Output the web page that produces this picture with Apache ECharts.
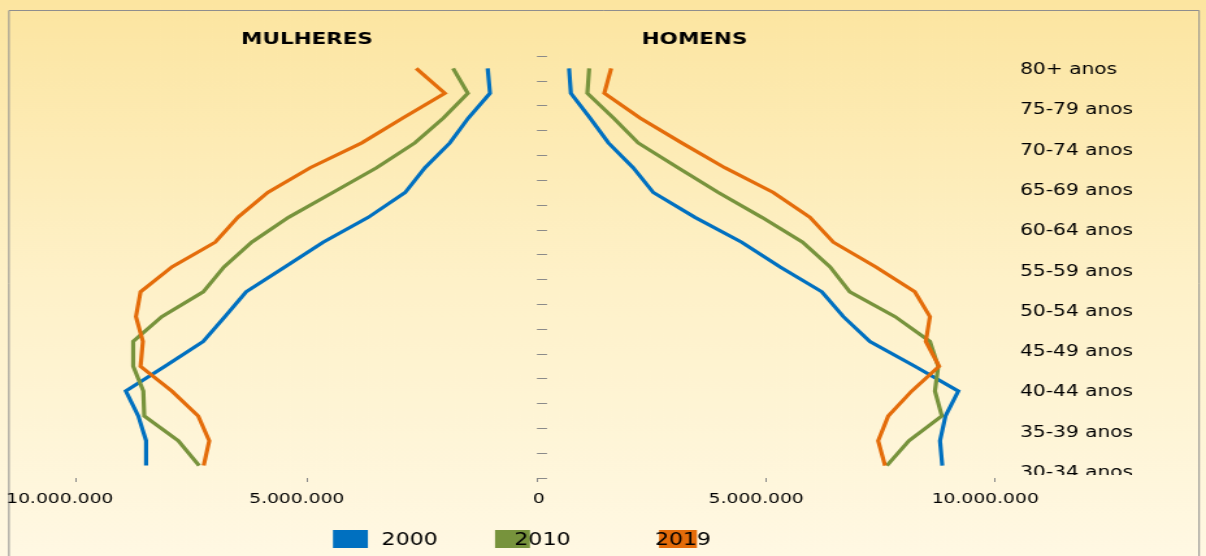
<!DOCTYPE html>
<html>
<head>
<meta charset="utf-8">
<script src="https://cdn.jsdelivr.net/npm/echarts@6.0.0/dist/echarts.min.js"></script>
<style>
  html, body { margin: 0; padding: 0; overflow: hidden; background: #FFF8E2; }
  #wrap { width: 1206px; height: 556px; overflow: hidden; position: relative; }
  /* chart is laid out on a narrower canvas and widened horizontally */
  #chart { width: 928px; height: 556px; transform: scaleX(1.29957); transform-origin: 0 0; }
</style>
</head>
<body>
<div id="wrap"><div id="chart"></div></div>
<script>
// Faixas etárias (de cima para baixo)
const ageGroups = ['80+ anos', '75-79 anos', '70-74 anos', '65-69 anos', '60-64 anos',
  '55-59 anos', '50-54 anos', '45-49 anos', '40-44 anos', '35-39 anos', '30-34 anos',
  '25-29 anos', '20-24 anos', '15-19 anos', '10-14 anos', '5-9 anos', '0-4 anos'];

// Rótulos exibidos à direita
const sideLabels = ageGroups.slice(0, 11);

const years = ['2000', '2010', '2019'];

// População feminina por faixa etária
const women2000 = [1070000, 1020000, 1490000, 1890000, 2430000, 2860000, 3660000, 4640000, 5470000,
  6310000, 6770000, 7240000, 8070000, 8920000, 8650000, 8480000, 8480000];
const women2010 = [1820000, 1500000, 2030000, 2650000, 3480000, 4430000, 5390000, 6190000, 6790000,
  7240000, 8140000, 8760000, 8760000, 8540000, 8520000, 7780000, 7330000];
const women2019 = [2620000, 2000000, 2910000, 3800000, 4920000, 5840000, 6490000, 6980000, 7920000,
  8600000, 8700000, 8550000, 8600000, 7920000, 7350000, 7110000, 7230000];

// População masculina por faixa etária
const men2000 = [700000, 740000, 1160000, 1560000, 2100000, 2540000, 3450000, 4470000, 5310000,
  6220000, 6690000, 7270000, 8250000, 9200000, 8920000, 8800000, 8850000];
const men2010 = [1140000, 1100000, 1670000, 2210000, 3080000, 3960000, 4910000, 5800000, 6400000,
  6830000, 7820000, 8580000, 8760000, 8690000, 8840000, 8120000, 7640000];
const men2019 = [1620000, 1470000, 2250000, 3160000, 4100000, 5160000, 5960000, 6470000, 7400000,
  8250000, 8580000, 8490000, 8780000, 8180000, 7670000, 7450000, 7600000];

// Ticks do eixo de população
const axisMax = 10000000;
const axisStep = 5000000;

const colors = { '2000': '#0070C0', '2010': '#77933C', '2019': '#E46C0A' };
const FONT = 'DejaVu Sans';

function brNumber(v) {
  return String(v).replace(/\B(?=(\d{3})+(?!\d))/g, '.');
}

const bgGradient = () => new echarts.graphic.LinearGradient(0, 0, 0, 556, [
  { offset: 0, color: '#FCE5A0' },
  { offset: 0.5, color: '#FEF1C8' },
  { offset: 1, color: '#FFF8E3' }
], true);

const chart = echarts.init(document.getElementById('chart'), null, { renderer: 'canvas', width: 928, height: 556 });

const W = 928;
const leftGrid = { left: 58.5, width: 354.7, top: 56, height: 422 };
const rightGrid = { left: 413.2, width: 352.4, top: 56, height: 422 };

const labelStyle = { fontFamily: FONT, fontSize: 14.4, color: '#000' };

function lineSeries(name, data, axisIdx) {
  return {
    name: name,
    type: 'line',
    xAxisIndex: axisIdx,
    yAxisIndex: axisIdx,
    data: data,
    symbol: 'none',
    smooth: false,
    silent: true,
    lineStyle: { width: 3.2, color: colors[name], join: 'miter' },
    itemStyle: { color: colors[name] },
    z: 3
  };
}

// Legend swatch (icon only)
function legendIcon(name, left, width) {
  return {
    data: [name],
    left: left,
    top: 530,
    padding: 0,
    itemWidth: width,
    itemHeight: 18,
    itemTextGap: 0,
    icon: 'rect',
    selectedMode: false,
    formatter: () => '',
    textStyle: { fontSize: 1 }
  };
}

// Legend caption (text only, drawn over the swatches)
function legendText(name, left) {
  return {
    data: [name],
    left: left,
    top: 532,
    z: 6,
    padding: 0,
    itemWidth: 0.1,
    itemHeight: 18,
    itemTextGap: 0,
    icon: 'rect',
    itemStyle: { color: 'rgba(0,0,0,0)' },
    selectedMode: false,
    textStyle: { fontFamily: FONT, fontSize: 17, color: '#000' }
  };
}

const option = {
  animation: false,
  textStyle: { fontFamily: FONT },
  title: [
    { text: 'MULHERES', left: 236.2, top: 31, padding: 0, textAlign: 'center',
      textStyle: { fontFamily: FONT, fontSize: 16.5, fontWeight: 'bold', color: '#000' } },
    { text: 'HOMENS', left: 534.4, top: 31, padding: 0, textAlign: 'center',
      textStyle: { fontFamily: FONT, fontSize: 16.5, fontWeight: 'bold', color: '#000' } }
  ],
  legend: [
    legendIcon('2000', 256.2, 26.9),
    legendIcon('2010', 380.9, 26.9),
    legendIcon('2019', 507.1, 29.2),
    legendText('2000', 288.5),
    legendText('2010', 390.7),
    legendText('2019', 498.8)
  ],
  grid: [
    Object.assign({ containLabel: false }, leftGrid),
    Object.assign({ containLabel: false }, rightGrid),
    { left: 775, width: 1, top: 49.85, height: 443.3, containLabel: false }
  ],
  xAxis: [
    {
      gridIndex: 0, type: 'value', inverse: true, min: 0, max: axisMax, interval: axisStep,
      axisLine: { show: false },
      axisTick: { show: true, length: 4, lineStyle: { color: '#8a8a8a' } },
      splitLine: { show: false },
      axisLabel: {
        margin: 14,
        formatter: v => v === 0 ? '{z|0}' : (v === axisMax ? '{a|' + brNumber(v) + '}' : '{b|' + brNumber(v) + '}'),
        rich: {
          a: Object.assign({ padding: [0, 25, 0, 0] }, labelStyle),
          b: Object.assign({ padding: [0, 15, 0, 0] }, labelStyle),
          z: Object.assign({ padding: [0, 0, 0, 3] }, labelStyle)
        }
      }
    },
    {
      gridIndex: 1, type: 'value', min: 0, max: axisMax, interval: axisStep,
      axisLine: { show: false },
      axisTick: { show: true, length: 4, lineStyle: { color: '#8a8a8a' } },
      splitLine: { show: false },
      axisLabel: {
        margin: 14,
        formatter: v => v === 0 ? '' : '{b|' + brNumber(v) + '}',
        rich: { b: Object.assign({ padding: [0, 15, 0, 0] }, labelStyle) }
      }
    },
    { gridIndex: 2, type: 'value', show: false }
  ],
  yAxis: [
    {
      gridIndex: 0, type: 'category', data: ageGroups, inverse: true, position: 'right',
      show: false
    },
    {
      gridIndex: 1, type: 'category', data: ageGroups, inverse: true, position: 'left',
      axisLine: { show: false },
      axisTick: { show: true, inside: true, length: 7.7, lineStyle: { color: '#8a8a8a', width: 1 } },
      axisLabel: { show: false },
      splitLine: { show: false }
    },
    {
      gridIndex: 2, type: 'category', data: sideLabels, inverse: true, position: 'right',
      axisLine: { show: false },
      axisTick: { show: false },
      splitLine: { show: false },
      axisLabel: { margin: 9, align: 'left', fontFamily: FONT, fontSize: 15.5, color: '#000', interval: 0 }
    }
  ],
  graphic: [
    { type: 'rect', z: -10, silent: true, shape: { x: 0, y: 0, width: W, height: 556 },
      style: { fill: bgGradient() } },
    { type: 'rect', z: -9, silent: true, shape: { x: 6.9, y: 10.5, width: 915.8, height: 700 },
      style: { fill: null, stroke: '#8e8e8e', lineWidth: 1 } },
    { type: 'rect', z: 50, silent: true, shape: { x: 781, y: 475, width: 110, height: 15 },
      style: { fill: bgGradient() } }
  ],
  series: [
    lineSeries('2000', women2000, 0),
    lineSeries('2010', women2010, 0),
    lineSeries('2019', women2019, 0),
    lineSeries('2000', men2000, 1),
    lineSeries('2010', men2010, 1),
    lineSeries('2019', men2019, 1)
  ]
};

chart.setOption(option);
</script>
</body>
</html>
